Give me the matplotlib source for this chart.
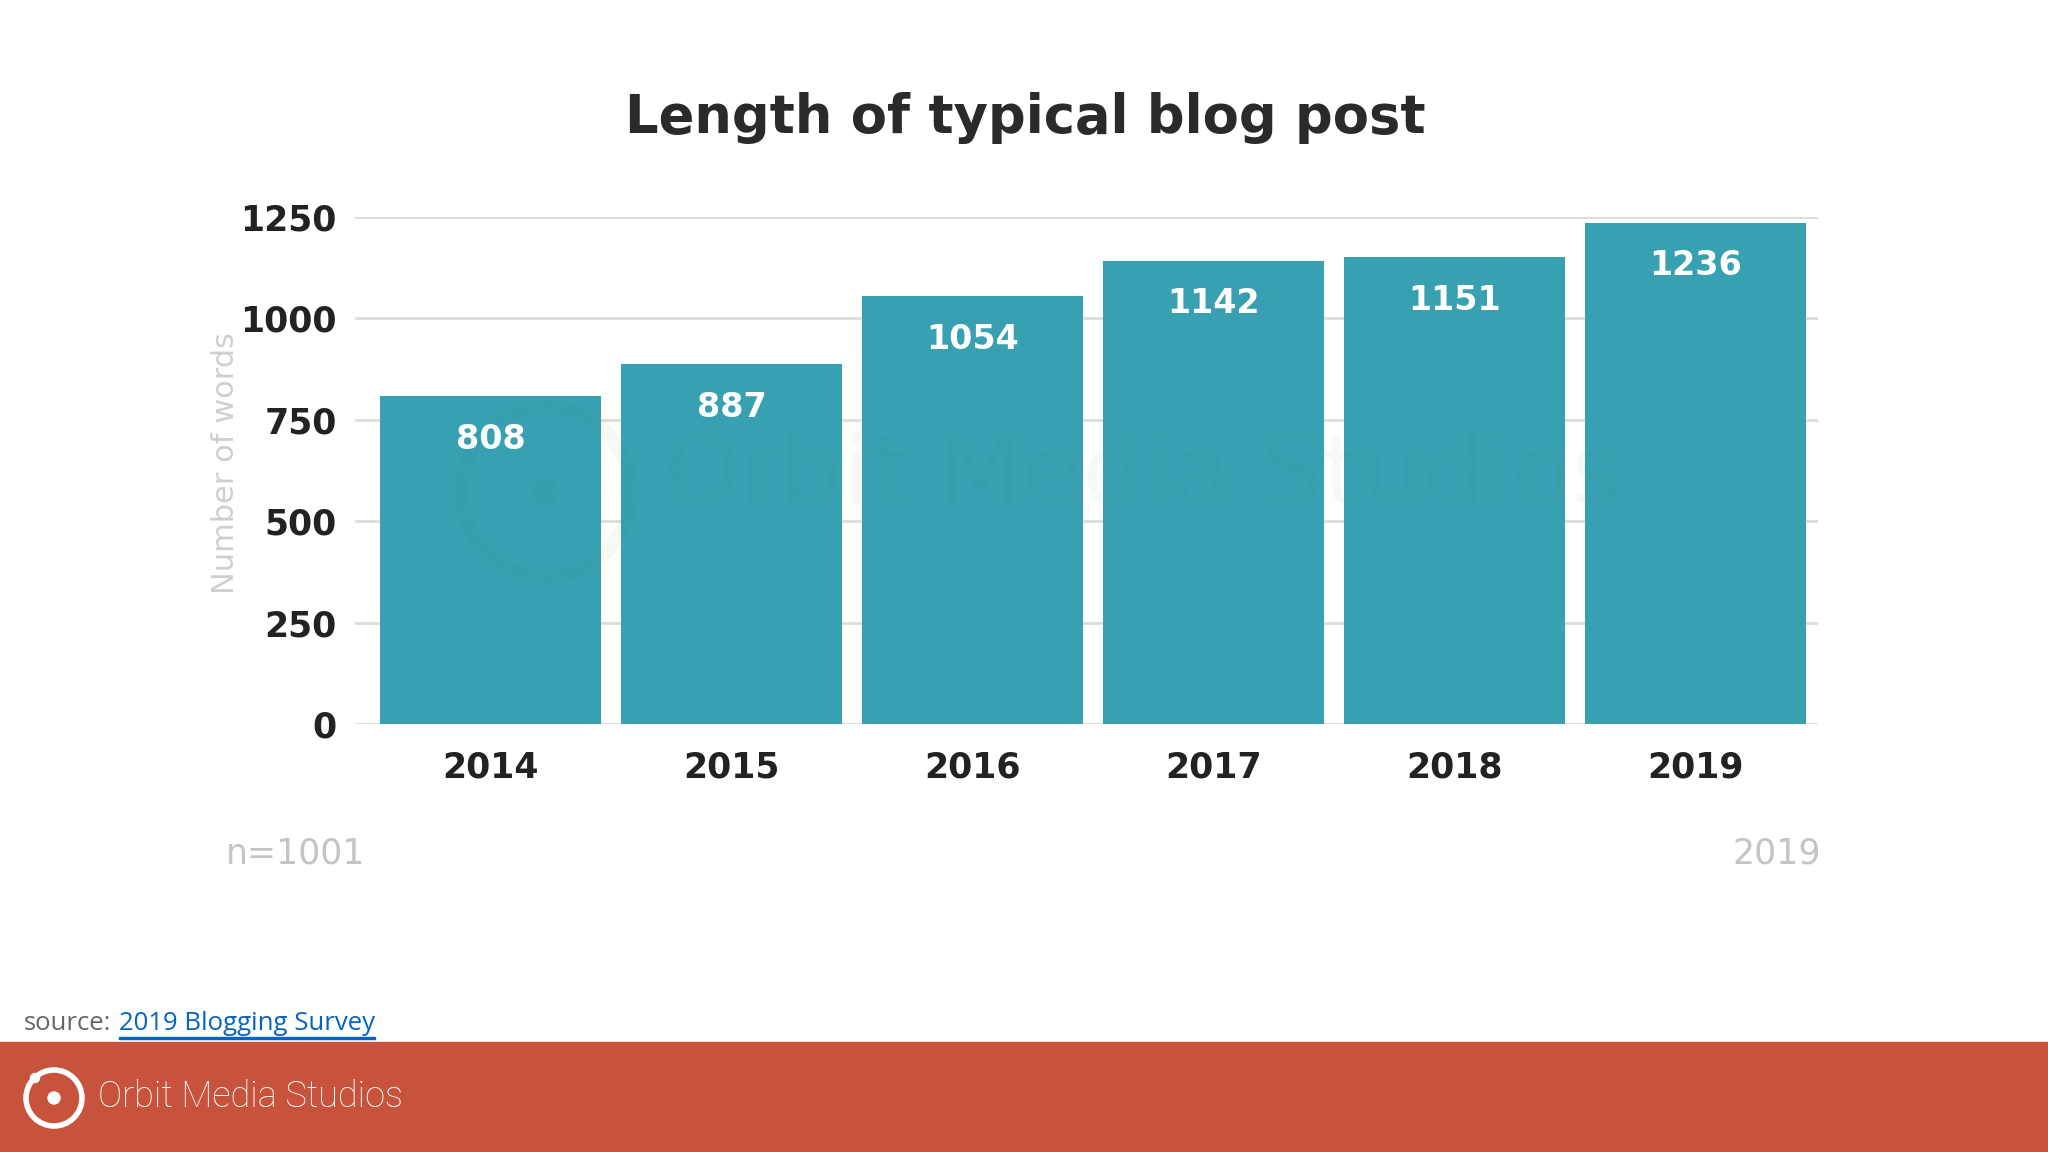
import matplotlib
matplotlib.use("Agg")
import matplotlib.pyplot as plt
from matplotlib.patches import Rectangle, Ellipse

years = ["2014", "2015", "2016", "2017", "2018", "2019"]
words = [808, 887, 1054, 1142, 1151, 1236]
yticks = [0, 250, 500, 750, 1000, 1250]

W, H = 2048, 1152
fig = plt.figure(figsize=(W / 100, H / 100), dpi=100)
fig.patch.set_facecolor("white")


def circ(cx, cy, r, **kw):
    """Circle given in pixel units (top-left origin), drawn in figure coords."""
    e = Ellipse((cx / W, 1 - cy / H), 2 * r / W, 2 * r / H,
                transform=fig.transFigure, **kw)
    fig.patches.append(e)
    return e


ax = fig.add_axes([355 / W, 1 - 724 / H, (1818 - 355) / W, (724 - 217) / H])
ax.set_facecolor("none")
x = list(range(len(years)))
ax.bar(x, words, width=0.917, color="#38A1B1", zorder=2)
ax.set_xlim(-0.564, len(years) - 1 + 0.508)
ax.set_ylim(0, 1250)
ax.set_yticks(yticks)
ax.set_yticklabels([str(v) for v in yticks])
ax.set_xticks(x)
ax.set_xticklabels(years)
ax.grid(axis="y", color="#dcdcdc", linewidth=2, zorder=0)
ax.set_axisbelow(True)
for s in ax.spines.values():
    s.set_visible(False)
ax.tick_params(axis="both", length=0, labelsize=25, labelcolor="#222222")
ax.tick_params(axis="y", pad=13)
ax.tick_params(axis="x", pad=19)
for lab in ax.get_xticklabels() + ax.get_yticklabels():
    lab.set_fontweight("bold")

for xi, v in zip(x, words):
    ax.annotate(str(v), (xi, v), xytext=(0, -31), textcoords="offset points",
                ha="center", va="center", color="white", fontsize=24,
                fontweight="bold", zorder=4)

# faint watermark
fig.text(1143 / W, 1 - 477 / H, "Orbit Media Studios", fontsize=70,
         color="#1e5f6a", alpha=0.035, ha="center", va="center", zorder=5)
circ(546, 492, 85, fill=False, lw=10, ec="#1e5f6a", alpha=0.035, zorder=5)
circ(546, 492, 12, color="#1e5f6a", alpha=0.035, zorder=5)

fig.text(225 / W, 1 - 463 / H, "Number of words", rotation=90, fontsize=22,
         color="#cfcfcf", ha="center", va="center")

fig.text(1025 / W, 1 - 118 / H, "Length of typical blog post", fontsize=38,
         fontweight="bold", color="#2a2a2a", ha="center", va="center")

fig.text(226 / W, 1 - 854 / H, "n=1001", fontsize=25, color="#c4c4c4",
         ha="left", va="center")
fig.text(1821 / W, 1 - 854 / H, "2019", fontsize=25, color="#c4c4c4",
         ha="right", va="center")

# source line
fig.text(24 / W, 1 - 1024 / H, "source:", fontsize=18.5, color="#666666",
         family="Open Sans", ha="left", va="center")
link = fig.text(119 / W, 1 - 1024 / H, "2019 Blogging Survey", fontsize=18.5,
                color="#0563C1", family="Open Sans", ha="left", va="center")
fig.canvas.draw()
bb = link.get_window_extent()
fig.patches.append(Rectangle((bb.x0 / W, 1 - 1039 / H), (bb.x1 - bb.x0) / W, 2.2 / H,
                             transform=fig.transFigure, color="#0563C1"))

# footer band
fig.patches.append(Rectangle((0, 0), 1, (H - 1042) / H, transform=fig.transFigure,
                             color="#C8533C", zorder=0))
circ(54, 1098, 28, fill=False, ec="white", lw=4)
circ(54, 1098, 6, color="white")
circ(35, 1078, 4.5, color="white")
fig.text(98 / W, 1 - 1097 / H, "Orbit Media Studios", fontsize=26,
         family="Roboto", fontweight="light",
         color="white", ha="left", va="center")

fig.savefig("out.png", dpi=100, facecolor="white")
